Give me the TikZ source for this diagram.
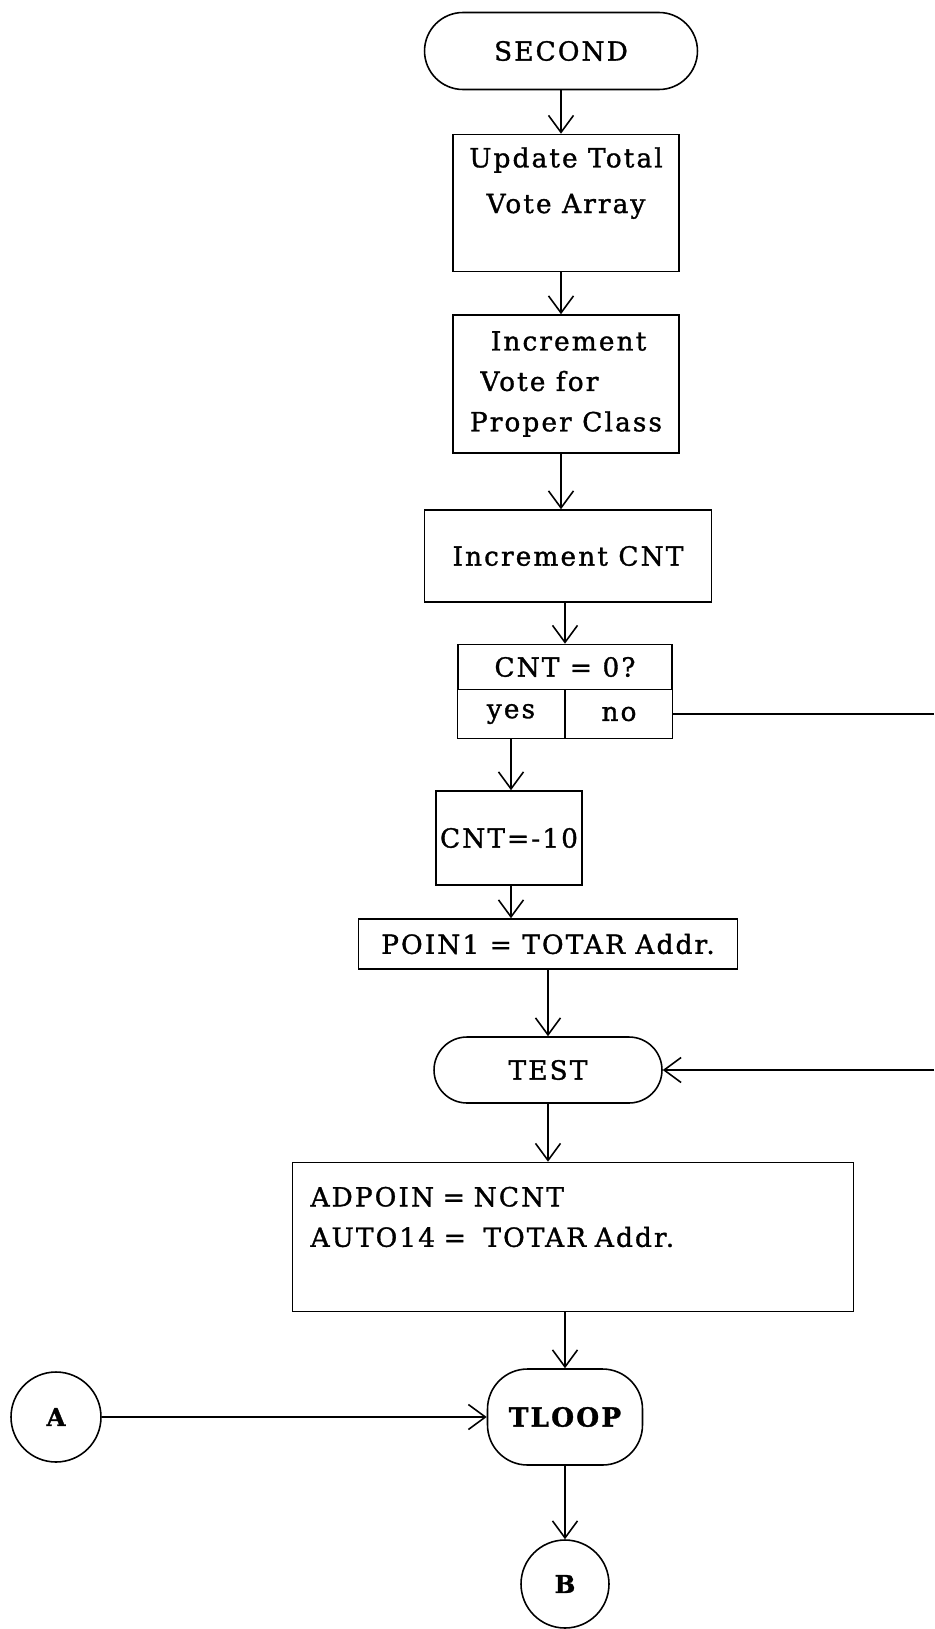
\documentclass[tikz,border=0pt]{standalone}
\usepackage{fontspec}
\setmainfont{DejaVu Serif}[LetterSpace=8,FakeBold=1.2]
\usetikzlibrary{arrows.meta}

\begin{document}
\begin{tikzpicture}[x=0.02cm,y=-0.02cm,line width=0.9pt,
    >={Straight Barb[length=3.4mm,width=5mm,line width=0.9pt]},
    font=\fontsize{15}{23}\selectfont,
    box/.style={draw,rectangle,inner sep=2pt},
    term/.style={draw,rectangle,rounded corners=#1},
    conn/.style={draw,circle,inner sep=0pt,font=\fontsize{14}{16}\selectfont\bfseries}]
    \useasboundingbox (0,0) rectangle (934,1629);
    \node[term=0.77cm,minimum width=5.46cm,minimum height=1.54cm] (second) at (561,51) {SECOND};
    \node[box,minimum width=4.52cm,minimum height=2.74cm,align=center] (update) at (566,203) {Update Total\\[3pt]Vote Array\\[3pt]~};
    \node[box,minimum width=4.52cm,minimum height=2.76cm,align=left] (vote) at (566,384) {\ \ Increment\\ \ Vote for\\Proper Class};
    \node[box,minimum width=5.74cm,minimum height=1.84cm] (incr) at (568,556) {Increment CNT};
    \node[box,minimum width=4.28cm,minimum height=0.9cm] (cnt) at (565,667) {CNT = 0?};
    \node[box,minimum width=2.14cm,minimum height=0.98cm] (yes) at (511,714) {yes};
    \node[box,minimum width=2.14cm,minimum height=0.98cm] (no) at (619,714) {no};
    \node[box,inner sep=1pt,minimum width=2.92cm,minimum height=1.88cm] (reset) at (509,838) {CNT=-10};
    \node[box,minimum width=7.58cm,minimum height=1.0cm] (poin) at (548,944) {POIN1 = TOTAR Addr.};
    \node[term=0.66cm,minimum width=4.56cm,minimum height=1.32cm] (test) at (548,1070) {TEST};
    \node[box,text width=10.5cm,inner xsep=0.36cm,minimum height=2.98cm,align=left] (adpoin) at (573,1237) {ADPOIN = NCNT\\AUTO14 = \ TOTAR Addr.\\~};
    \node[term=0.8cm,minimum width=3.1cm,minimum height=1.92cm,font=\fontsize{15}{23}\selectfont\bfseries] (tloop) at (565,1417) {TLOOP};
    \node[conn,minimum size=1.8cm] (A) at (56,1417) {A};
    \node[conn,minimum size=1.76cm] (B) at (565,1584) {B};
    \coordinate (noend) at (934,714);
    \coordinate (back) at (934,1070);
    \draw[->] (second) -- (second |- update.north);
    \draw[->] (update.south -| second) -- (vote.north -| second);
    \draw[->] (vote.south -| second) -- (incr.north -| second);
    \draw[->] (incr.south -| cnt) -- (cnt);
    \draw[->] (yes) -- (yes |- reset.north);
    \draw[->] (reset.south -| yes) -- (poin.north -| yes);
    \draw[->] (poin) -- (test);
    \draw[->] (test) -- (test |- adpoin.north);
    \draw[->] (adpoin.south -| tloop) -- (tloop);
    \draw[->] (tloop) -- (B);
    \draw[->] (A) -- (tloop);
    \draw (no.east) -- (noend);
    \draw[->] (back) -- (test);
\end{tikzpicture}
\end{document}
